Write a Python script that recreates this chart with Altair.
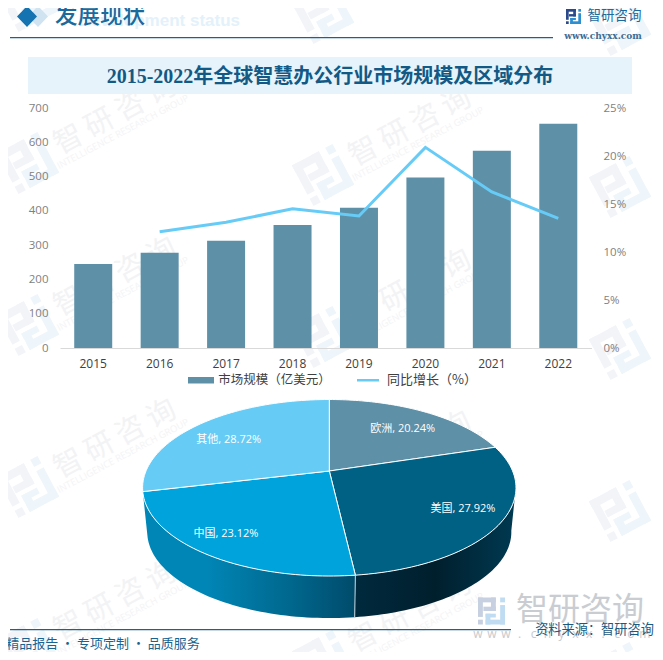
import math
import altair as alt
import pandas as pd

W, H = 647, 644
ORG = 8

# ---- chart values ----
years = ["2015", "2016", "2017", "2018", "2019", "2020", "2021", "2022"]
market = [245, 278, 313, 359, 409, 497, 575, 654]
growth = [None, 12.1, 13.1, 14.5, 13.75, 20.9, 16.25, 13.5]
regions = ["欧洲", "美国", "中国", "其他"]
shares = [20.24, 27.92, 23.12, 28.72]
slice_colors = ["#5E90A8", "#006185", "#00A3DB", "#66CBF5"]
label_x = [402.7, 463, 226, 228.7]
label_y = [429, 509, 534, 440]

TITLE = "2015-2022年全球智慧办公行业市场规模及区域分布"
CN = "Noto Sans CJK SC"
BLUE = "#1A6391"

px = alt.Scale(domain=[ORG, ORG + W], range=[0, W])
py = alt.Scale(domain=[ORG, ORG + H], range=[0, H])


def polys(rows):
    df = pd.DataFrame(rows)
    return alt.Chart(df).mark_line(strokeWidth=0, interpolate="linear").encode(
        x=alt.X("x:Q", scale=px, axis=None),
        y=alt.Y("y:Q", scale=py, axis=None),
        detail="id:N",
        order="ord:Q",
        fill=alt.Fill("c:N", scale=None),
    )


def quad(rows, pid, pts, c):
    for i, (x, y) in enumerate(pts):
        rows.append({"id": pid, "ord": i, "x": x, "y": y, "c": c})


def rect(rows, pid, x0, y0, x1, y1, c):
    quad(rows, pid, [(x0, y0), (x1, y0), (x1, y1), (x0, y1)], c)


def text(x, y, s, size, color, font=CN, weight="normal", align="center", angle=None, baseline="middle"):
    kw = {"angle": angle} if angle is not None else {}
    df = pd.DataFrame({"x": [x], "y": [y], "t": [s]})
    return alt.Chart(df).mark_text(
        fontSize=size, color=color, font=font, fontWeight=weight, align=align, baseline=baseline, **kw
    ).encode(
        x=alt.X("x:Q", scale=px, axis=None),
        y=alt.Y("y:Q", scale=py, axis=None),
        text="t:N",
    )


def texts(rows, size, color, font=CN, angle=None, weight="normal"):
    kw = {"angle": angle} if angle is not None else {}
    df = pd.DataFrame(rows)
    return alt.Chart(df).mark_text(
        fontSize=size, color=color, font=font, align="center", baseline="middle", fontWeight=weight, **kw
    ).encode(
        x=alt.X("x:Q", scale=px, axis=None),
        y=alt.Y("y:Q", scale=py, axis=None),
        text="t:N",
    )


# logo pieces on a unit square
LOGO_DARK = [
    (0, 0, .66, .18), (.48, 0, .66, .5), (.2, .34, .66, .5),
    (0, 0, .18, .72), (0, .82, .18, 1),
]
LOGO_LIGHT = [
    (.82, 0, 1, .18), (.82, .28, 1, 1), (.28, .82, 1, 1),
    (.28, .6, .46, 1), (.28, .6, .66, .74),
]


def logo(rows, name, cx, cy, side, angle, dark, light):
    a = math.radians(angle)
    ca, sa = math.cos(a), math.sin(a)
    for group, c in ((LOGO_DARK, dark), (LOGO_LIGHT, light)):
        for j, (x0, y0, x1, y1) in enumerate(group):
            pts = []
            for ux, uy in ((x0, y0), (x1, y0), (x1, y1), (x0, y1)):
                dx, dy = (ux - .5) * side, (uy - .5) * side
                pts.append((cx + dx * ca + dy * sa, cy - dx * sa + dy * ca))
            quad(rows, f"{name}{c}{j}", pts, c)


# ---- watermark ----
wm_rows, wm_cn, wm_en = [], [], []
A = math.radians(28)
for col, lx in enumerate([28, 323, 620]):
    for row in range(5):
        ly = 1 + 162 * row + 12 * col
        logo(wm_rows, f"w{col}{row}", lx, ly, 46, 28, "#F2F4F8", "#EEF5FB")
        if row == 0 or col == 2:
            continue
        cx, cy = lx + 87, ly - 48
        for i, ch in enumerate("智研咨询"):
            off = (i - 1.5) * 35
            wm_cn.append({"x": cx + off * math.cos(A), "y": cy - off * math.sin(A), "t": ch})
        wm_en.append({"x": lx + 95, "y": ly - 31, "t": "INTELLIGENCE RESEARCH GROUP"})

layers = [
    polys(wm_rows),
    texts(wm_cn, 29, "#F2F3F4", angle=332),
    texts(wm_en, 9.5, "#F3F4F5", font="Open Sans", angle=332),
]

# ---- header, title band, footer ----
deco = []
quad(deco, "d1", [(38, 6), (48, 16.5), (38, 27), (28, 16.5)], "#CFE3F0")
quad(deco, "d2", [(27, 6), (37, 16.5), (27, 27), (17, 16.5)], "#1473B0")
rect(deco, "line1", 10, 37, 553, 38.2, BLUE)
rect(deco, "band", 28, 57, 632, 94, "#E6F3FB")
rect(deco, "line2", 10, 629, 511, 630.2, BLUE)
logo(deco, "tr", 573.5, 16.5, 15, 0, "#2B4A8B", "#2E8FD0")
logo(deco, "br", 491.5, 611, 27, 0, "#C6D0E0", "#BFDCF2")
layers.append(polys(deco))

layers += [
    text(240, 21, "Development status", 17, "#E3F1FA", font="Liberation Sans", weight="bold", align="right"),
    text(100, 16, "发展现状", 22.5, "#1A6A9C", weight=500),
    text(330, 77, TITLE, 20, "#125A85", font="Liberation Serif, " + CN, weight="bold"),
    text(614.5, 16, "智研咨询", 13.5, "#1A6A9C"),
    text(603, 36, "www.chyxx.com", 9, "#3D6D92", font="DejaVu Serif", weight="bold"),
    text(580, 610, "智研咨询", 32, "#C9CDD2"),
    texts([{"x": 478 + 13.9 * i, "y": 634, "t": c} for i, c in enumerate("www.chyxx.com")], 12, "#C6CACE", font="Open Sans"),
    text(594.5, 630, "资料来源：智研咨询", 13.2, "#1A5A7E"),
    text(103, 644, "精品报告 · 专项定制 · 品质服务", 13, "#1A6391"),
]

# ---- bars and growth line ----
df_bar = pd.DataFrame({"year": years, "market": market, "growth": growth})
xband = alt.Scale(domain=years, range=[60 - ORG, 591.5 - ORG])
yrange = [348 - ORG, 108 - ORG]

bars = alt.Chart(df_bar).mark_bar(size=38, color="#5E90A8").encode(
    x=alt.X(
        "year:N", scale=xband, title=None, sort=None,
        axis=alt.Axis(
            orient="bottom", offset=-(H - (348 - ORG)), labelAngle=0, ticks=False, zindex=1,
            domainColor="#D9D9D9", labelColor="#404040", labelFont="Open Sans",
            labelFontSize=12, labelPadding=10, grid=False,
        ),
    ),
    y=alt.Y(
        "market:Q", title=None,
        scale=alt.Scale(domain=[0, 700], range=yrange),
        axis=alt.Axis(
            orient="left", offset=-(52 - ORG), values=list(range(0, 701, 100)), ticks=False, domain=False, zindex=1,
            grid=False, labelColor="#7F7F7F", labelFont="Open Sans", labelFontSize=11.5, labelPadding=4,
        ),
    ),
)

line = alt.Chart(df_bar[df_bar.growth.notna()]).mark_line(color="#66CCF7", strokeWidth=3).encode(
    x=alt.X("year:N", scale=xband, sort=None, axis=None),
    y=alt.Y(
        "growth:Q", title=None,
        scale=alt.Scale(domain=[0, 25], range=yrange),
        axis=alt.Axis(
            orient="right", offset=-(W - (600 - ORG)), values=[0, 5, 10, 15, 20, 25], ticks=False, domain=False, zindex=1,
            grid=False, labelExpr="datum.value + '%'", labelColor="#7F7F7F", labelFont="Open Sans",
            labelFontSize=11.5, labelPadding=3,
        ),
    ),
)
layers += [bars, line]

# legend
leg = []
rect(leg, "sw", 188, 377, 214, 383.5, "#5E90A8")
rect(leg, "ln", 357, 379, 379, 381.5, "#66CCF7")
layers += [
    polys(leg),
    text(274.5, 380, "市场规模（亿美元）", 12.5, "#404040"),
    text(432, 380, "同比增长（%）", 13, "#404040"),
]

# ---- 3D pie: perspective projection of the unit disc ----
APEX_X, APEX_Y, AX, AY, K = 329.3, 471, 183.3, 85.07, 0.19
SHRINK, DEPTH = 0.975, 0.52
C = -K / (1 - K * K)

ux = alt.Scale(domain=[-1, 1], range=[APEX_X - AX - ORG, APEX_X + AX - ORG])
uy = alt.Scale(domain=[-1, 1], range=[APEX_Y + AY - ORG, APEX_Y - AY - ORG])


def rim(pct):
    t = pct / 100 * 2 * math.pi
    X, Y = math.sin(t), math.cos(t)
    w = 1 + K * Y
    return X / w, Y / w


def low(pct):
    u, v = rim(pct)
    return u * SHRINK, C + (v - C) * SHRINK - DEPTH


def arc_range(a, b, n=60):
    return [a + (b - a) * i / n for i in range(n + 1)]


def poly_layer(pts, **mark):
    df = pd.DataFrame({"ord": range(len(pts)), "u": [p[0] for p in pts], "v": [p[1] for p in pts]})
    return alt.Chart(df).mark_line(**mark).encode(
        x=alt.X("u:Q", scale=ux, axis=None),
        y=alt.Y("v:Q", scale=uy, axis=None),
        order="ord:Q",
    )


def hgrad(*stops):
    return alt.Gradient(
        gradient="linear", x1=0, x2=1, y1=0, y2=0,
        stops=[alt.GradientStop(color=c, offset=o) for o, c in stops],
    )


cum = [0]
for s in shares:
    cum.append(cum[-1] + s)

# side walls: visible rim from the right edge to the China / other boundary
edge = 27.8
wall_us = [rim(p) for p in arc_range(edge, cum[2])] + [low(p) for p in arc_range(cum[2], edge)]
wall_cn = [rim(p) for p in arc_range(cum[2], cum[3])] + [low(p) for p in arc_range(cum[3], cum[2])]
layers.append(poly_layer(wall_us, strokeWidth=0, fill=hgrad((0, "#002A3E"), (.5, "#001F2D"), (1, "#003A52"))))
layers.append(poly_layer(wall_cn, strokeWidth=0, fill=hgrad((0, "#0086B6"), (.3, "#0086B6"), (.7, "#00678D"), (1, "#004B6B"))))
layers.append(poly_layer([rim(cum[2]), low(cum[2])], stroke="#C9D6DC", strokeWidth=1))

# top face
for i, c in enumerate(slice_colors):
    pts = [(0, 0)] + [rim(p) for p in arc_range(cum[i], cum[i + 1])] + [(0, 0)]
    layers.append(poly_layer(pts, fill=c, stroke="#FFFFFF", strokeWidth=1))

# slice labels
layers.append(texts(
    [{"x": x, "y": y, "t": f"{n}, {s:.2f}%"} for x, y, n, s in zip(label_x, label_y, regions, shares)],
    11, "#FFFFFF", font="Open Sans, " + CN,
))

chart = alt.layer(*layers).resolve_scale(x="independent", y="independent").properties(
    width=W, height=H, padding=0, autosize=alt.AutoSizeParams(type="none"),
    background="#FFFFFF",
).configure_view(stroke=None)

chart.save("out.html", embed_options={"renderer": "svg", "actions": False})
